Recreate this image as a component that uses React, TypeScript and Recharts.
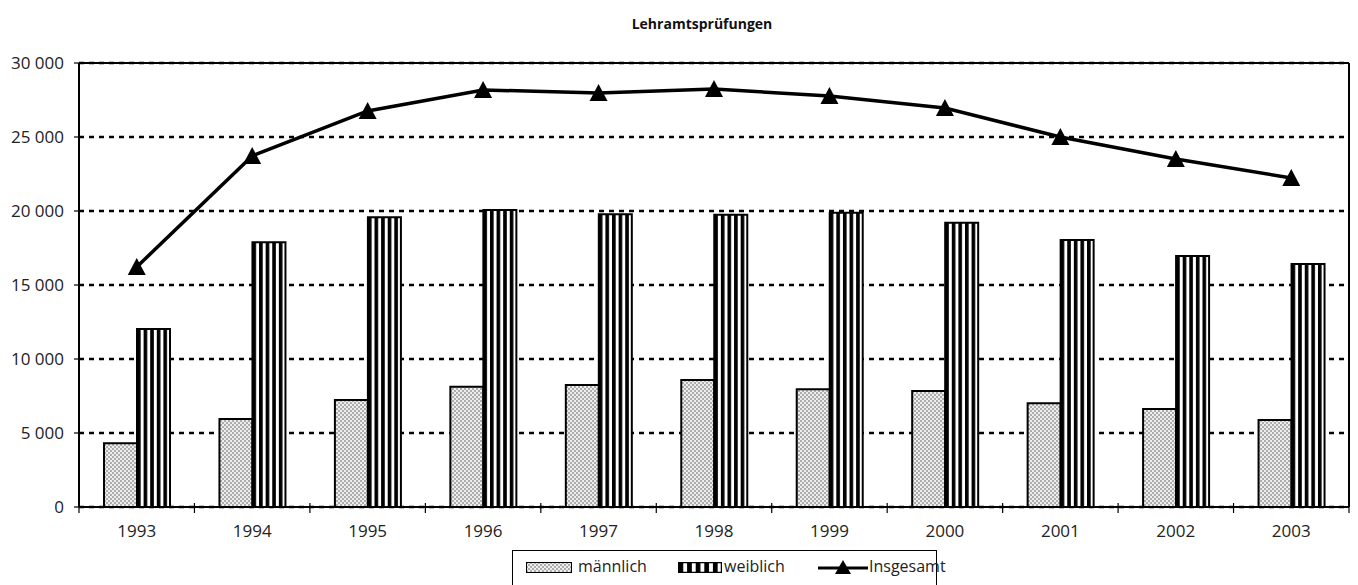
import React from 'react';
import {
  ComposedChart,
  Bar,
  Line,
  XAxis,
  YAxis,
  CartesianGrid,
  Legend,
  ReferenceLine,
} from 'recharts';

const years = ['1993', '1994', '1995', '1996', '1997', '1998', '1999', '2000', '2001', '2002', '2003'];
const maennlich = [4300, 5950, 7230, 8130, 8240, 8580, 7950, 7840, 7010, 6620, 5880];
const weiblich = [12030, 17890, 19570, 20070, 19780, 19750, 19890, 19210, 18040, 16960, 16420];
const insgesamt = [16220, 23720, 26760, 28180, 27970, 28240, 27770, 26960, 25000, 23510, 22230];
const yTicks = [0, 5000, 10000, 15000, 20000, 25000, 30000];

const data = years.map((y, i) => ({
  year: y,
  maennlich: maennlich[i],
  weiblich: weiblich[i],
  insgesamt: insgesamt[i],
}));

const FONT = '"Open Sans", "DejaVu Sans", sans-serif';

const fmt = (v: number) => {
  const s = String(v);
  return s.length > 3 ? s.slice(0, s.length - 3) + '\u00a0' + s.slice(-3) : s;
};

const Triangle = (props: any) => {
  const { cx, cy } = props;
  if (cx == null || cy == null) return null;
  return <path d={`M${cx},${cy - 9} L${cx + 9},${cy + 8} L${cx - 9},${cy + 8} Z`} fill="#000" />;
};

const XTick = (props: any) => {
  const { x, y, payload, index } = props;
  const off = payload.offset || 0;
  const axisY = y - 18;
  return (
    <g>
      <line x1={x - off} x2={x - off} y1={axisY - 4} y2={axisY + 6} stroke="#000" strokeWidth={1.2} />
      {index === years.length - 1 && (
        <line x1={x + off} x2={x + off} y1={axisY - 4} y2={axisY + 6} stroke="#000" strokeWidth={1.2} />
      )}
      <text x={x} y={y} dy="0.71em" textAnchor="middle" fontFamily={FONT} fontSize={17} fill="#222">
        {payload.value}
      </text>
    </g>
  );
};

const Patterns = ({ p }: { p: string }) => (
  <defs>
    <pattern id={`${p}dots`} patternUnits="userSpaceOnUse" width={4} height={4}>
      <rect width={4} height={4} fill="#eeeeee" />
      <circle cx={1} cy={1} r={0.8} fill="#5a5a5a" />
      <circle cx={3} cy={3} r={0.8} fill="#5a5a5a" />
    </pattern>
    <pattern id={`${p}stripes`} patternUnits="objectBoundingBox" patternContentUnits="objectBoundingBox" width={0.2} height={1}>
      <rect width={0.2} height={1} fill="#fff" />
      <rect x={0} width={0.11} height={1} fill="#000" />
    </pattern>
  </defs>
);

const LegendContent = () => (
  <div
    style={{
      position: 'relative',
      width: 425,
      height: 40,
      border: '1.5px solid #000',
      boxSizing: 'border-box',
      background: '#fff',
      fontFamily: FONT,
      fontSize: 16,
      color: '#222',
    }}
  >
    <svg width={46} height={11} style={{ position: 'absolute', left: 13, top: 11 }}>
      <Patterns p="lg" />
      <rect x={0.5} y={0.5} width={45} height={10} fill="url(#lgdots)" stroke="#000" strokeWidth={1} />
    </svg>
    <span style={{ position: 'absolute', left: 65, top: 5, lineHeight: '20px' }}>männlich</span>
    <svg width={44} height={11} style={{ position: 'absolute', left: 165, top: 11 }}>
      <Patterns p="lg2" />
      <rect x={0.5} y={0.5} width={43} height={10} fill="url(#lg2stripes)" stroke="#000" strokeWidth={1.5} />
    </svg>
    <span style={{ position: 'absolute', left: 211, top: 5, lineHeight: '20px' }}>weiblich</span>
    <svg width={50} height={20} style={{ position: 'absolute', left: 305, top: 6 }}>
      <line x1={0} x2={50} y1={11} y2={11} stroke="#000" strokeWidth={3} />
      <path d="M25,3 L33,17 L17,17 Z" fill="#000" />
    </svg>
    <span style={{ position: 'absolute', left: 356, top: 5, lineHeight: '20px' }}>Insgesamt</span>
  </div>
);

export default function App() {
  return (
    <div style={{ position: 'absolute', left: 0, top: 0, width: 1358, height: 585, background: '#fff' }}>
      <div
        style={{
          position: 'absolute',
          left: 0,
          top: 14,
          width: 1404,
          textAlign: 'center',
          fontFamily: FONT,
          fontWeight: 700,
          fontSize: 14,
          color: '#111',
        }}
      >
        Lehramtsprüfungen
      </div>
      <ComposedChart
        width={1358}
        height={585}
        data={data}
        margin={{ top: 63, right: 8, bottom: 38, left: 0 }}
        barGap={0}
      >
        <Patterns p="c" />
        <CartesianGrid
          yAxisId="l"
          horizontal
          vertical={false}
          stroke="#000"
          strokeWidth={2.5}
          strokeDasharray="5 5"
        />
        <XAxis
          dataKey="year"
          axisLine={{ stroke: '#000', strokeWidth: 2 }}
          tickLine={false}
          tickSize={6}
          tickMargin={12}
          height={40}
          interval={0}
          tick={<XTick />}
        />
        <YAxis
          yAxisId="l"
          domain={[0, 30000]}
          ticks={yTicks}
          width={79}
          tickFormatter={fmt}
          axisLine={{ stroke: '#000', strokeWidth: 2 }}
          tickLine={{ stroke: '#000', strokeWidth: 1.2 }}
          tickSize={5}
          tickMargin={10}
          tick={{ fontFamily: FONT, fontSize: 17, fill: '#222' }}
          interval={0}
        />
        <YAxis
          yAxisId="r"
          orientation="right"
          domain={[0, 30000]}
          width={1}
          tick={false}
          tickLine={false}
          axisLine={{ stroke: '#000', strokeWidth: 2 }}
        />
        <ReferenceLine yAxisId="l" y={30000} stroke="#000" strokeWidth={2} />
        <Bar
          yAxisId="l"
          dataKey="maennlich"
          name="männlich"
          barSize={33}
          fill="url(#cdots)"
          stroke="#000"
          strokeWidth={2}
          isAnimationActive={false}
        />
        <Bar
          yAxisId="l"
          dataKey="weiblich"
          name="weiblich"
          barSize={33}
          fill="url(#cstripes)"
          stroke="#000"
          strokeWidth={2}
          isAnimationActive={false}
        />
        <Line
          yAxisId="l"
          dataKey="insgesamt"
          name="Insgesamt"
          stroke="#000"
          strokeWidth={3.5}
          dot={<Triangle />}
          activeDot={false}
          isAnimationActive={false}
        />
        <Legend
          layout="vertical"
          align="center"
          verticalAlign="middle"
          content={<LegendContent />}
          wrapperStyle={{ left: 512, top: 550, width: 425, height: 40 }}
        />
      </ComposedChart>
    </div>
  );
}
